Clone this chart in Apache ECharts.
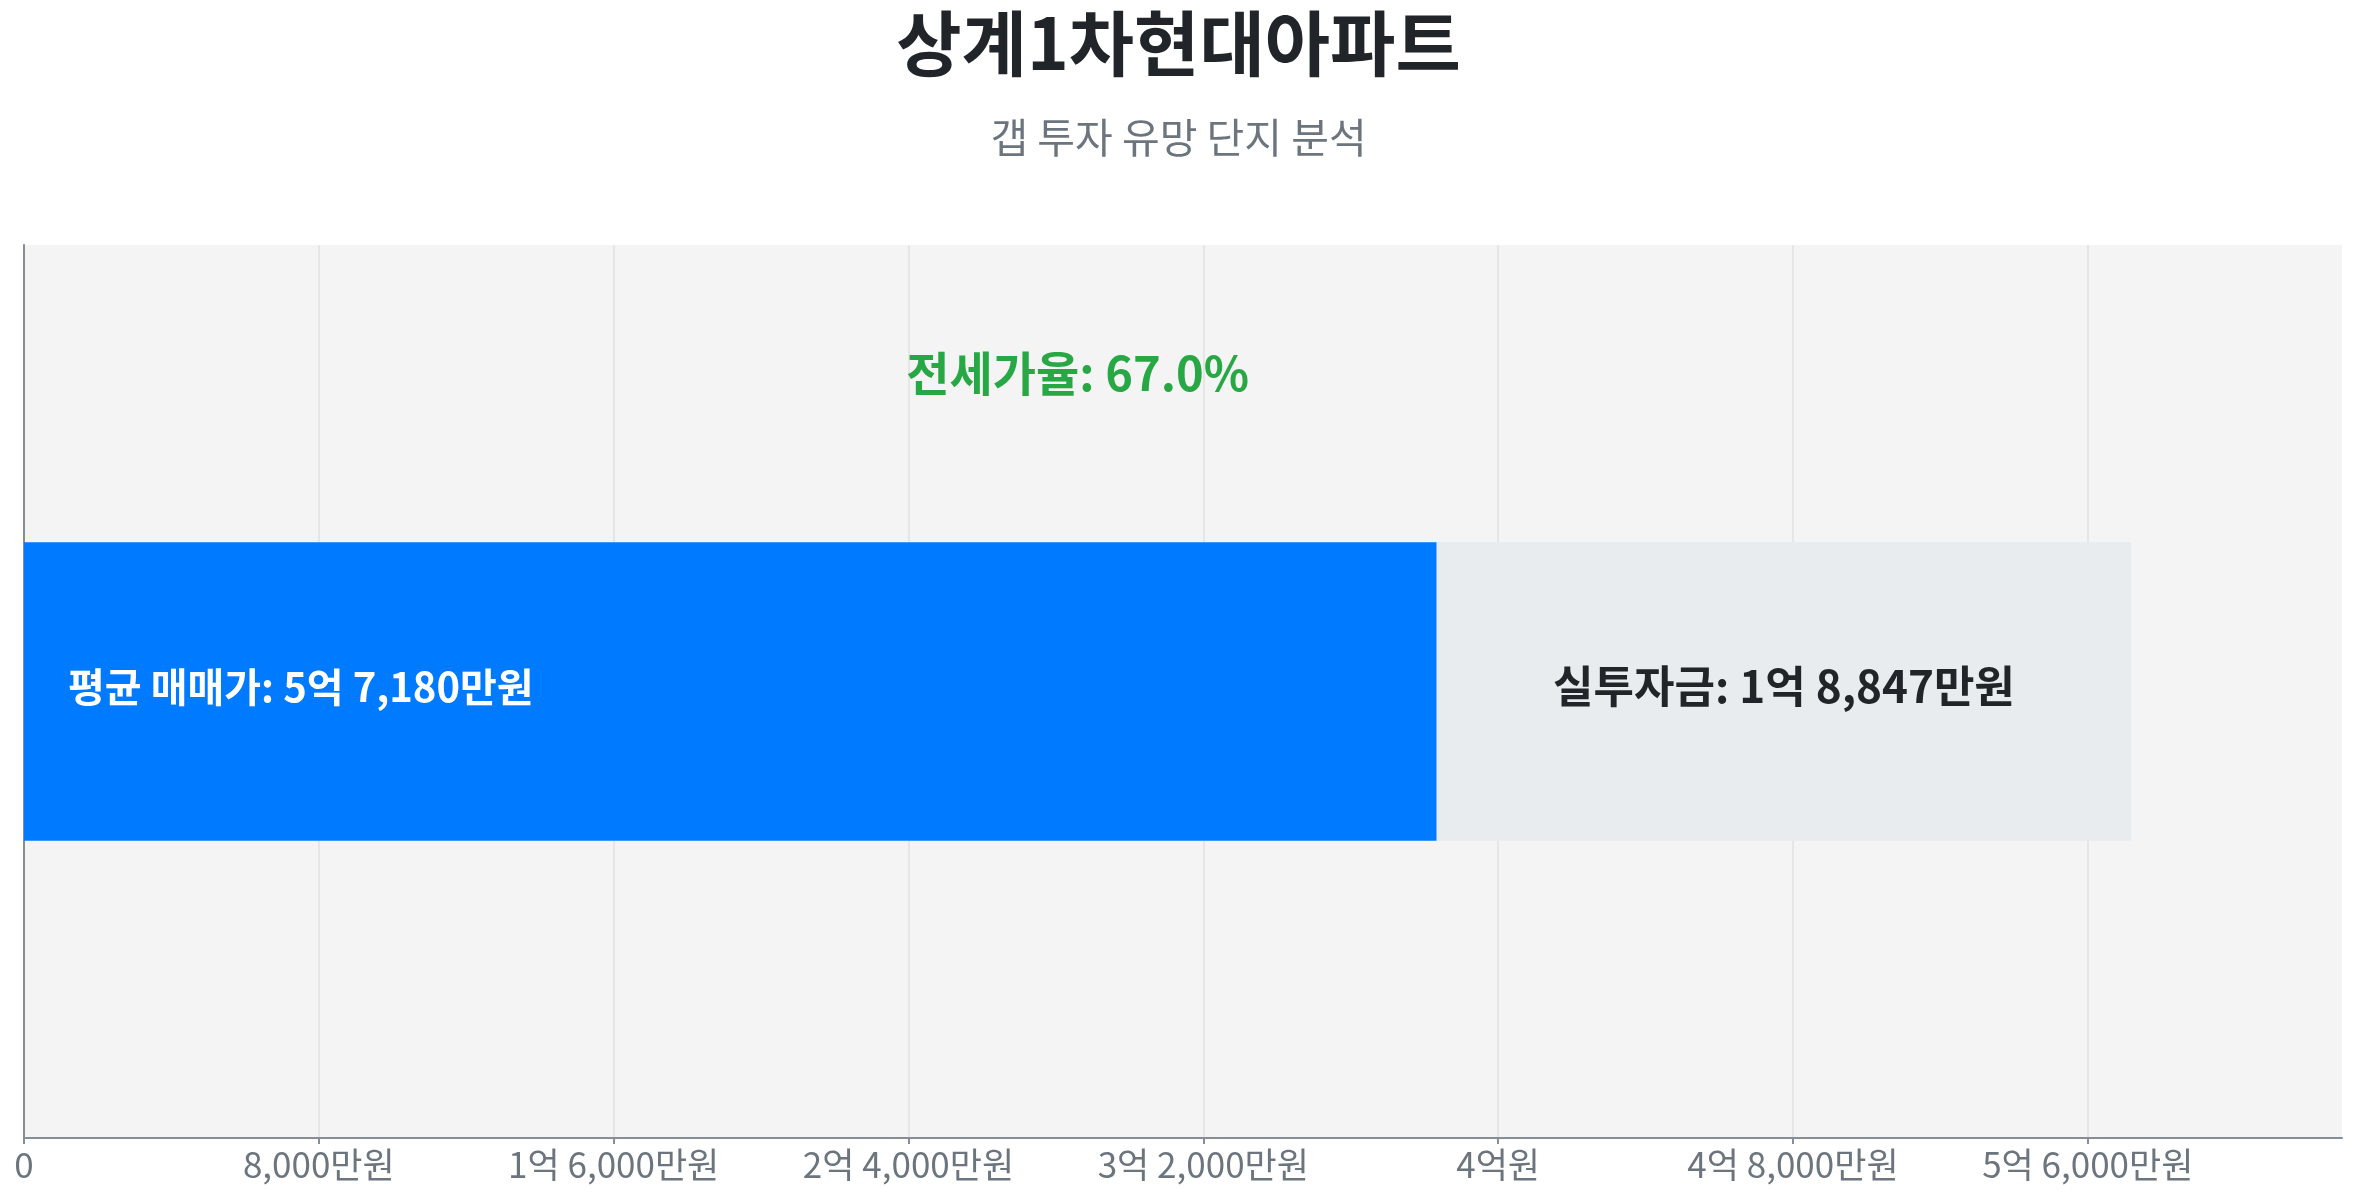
<!DOCTYPE html>
<html>
<head>
<meta charset="utf-8">
<script src="https://cdn.jsdelivr.net/npm/echarts@6/dist/echarts.min.js"></script>
<style>
html,body{margin:0;padding:0;background:#fff;}
#chart{width:2357px;height:1200px;}
</style>
</head>
<body>
<div id="chart"></div>
<script>
const categories = ['상계1차현대아파트'];
const jeonseValues = [38333];   // 전세가 (만원)
const gapValues = [18847];      // 실투자금 (만원)
const salePrices = [57180];     // 평균 매매가 (만원)
const jeonseRatios = [67.0];    // 전세가율 (%)
const titleText = '상계1차현대아파트';
const subtitleText = '갭 투자 유망 단지 분석';

const FONT = '"Noto Sans CJK KR", "Noto Sans", sans-serif';

function fmtMan(v) {
  if (v === 0) return '0';
  const eok = Math.floor(v / 10000);
  const man = Math.round(v % 10000);
  if (eok > 0 && man > 0) return eok + '억 ' + man.toLocaleString('en-US') + '만원';
  if (eok > 0) return eok + '억원';
  return man.toLocaleString('en-US') + '만원';
}

const chart = echarts.init(document.getElementById('chart'));
const option = {
  animation: false,
  title: [
    {
      text: titleText,
      left: 'center',
      top: 3,
      textStyle: { fontFamily: FONT, fontSize: 71, fontWeight: 'bold', color: '#212529' }
    },
    {
      text: subtitleText,
      left: 'center',
      top: 112,
      textStyle: { fontFamily: FONT, fontSize: 41, fontWeight: 'normal', color: '#6c757d' }
    }
  ],
  grid: {
    left: 24, right: 15, top: 245, bottom: 62,
    show: true, backgroundColor: '#f4f4f4', borderWidth: 0
  },
  xAxis: {
    type: 'value',
    min: 0,
    max: salePrices[0] * 1.1,
    interval: 8000,
    axisLine: { show: true, lineStyle: { color: '#868e96', width: 2 } },
    axisTick: { show: true, length: 6, lineStyle: { color: '#868e96', width: 2 } },
    axisLabel: {
      formatter: fmtMan, fontFamily: FONT, fontSize: 35, color: '#6c757d', margin: 9,
      showMaxLabel: false
    },
    splitLine: { show: true, showMaxLine: false, lineStyle: { color: '#e6e6e6', width: 2 } }
  },
  yAxis: {
    type: 'category',
    data: categories,
    axisLine: { show: true, lineStyle: { color: '#868e96', width: 2 } },
    axisTick: { show: false },
    axisLabel: { show: false }
  },
  series: [
    {
      name: '전세가',
      type: 'bar',
      stack: 'total',
      barWidth: '33.4%',
      data: jeonseValues,
      itemStyle: { color: '#007bff' },
      label: {
        show: true,
        position: 'insideLeft',
        distance: 44,
        offset: [0, -5],
        formatter: (p) => '평균 매매가: ' + fmtMan(salePrices[p.dataIndex]),
        fontFamily: FONT, fontSize: 40, fontWeight: 'bold', color: '#ffffff'
      }
    },
    {
      name: '실투자금',
      type: 'bar',
      stack: 'total',
      barWidth: '33.4%',
      data: gapValues,
      itemStyle: { color: '#e9ecef' },
      label: {
        show: true,
        position: 'inside',
        offset: [0, -5],
        formatter: (p) => '실투자금: ' + fmtMan(gapValues[p.dataIndex]),
        fontFamily: FONT, fontSize: 44, fontWeight: 'bold', color: '#212529'
      },
      markPoint: {
        symbol: 'circle',
        symbolSize: 0,
        silent: true,
        label: {
          show: true,
          position: 'inside',
          offset: [0, -318],
          formatter: () => '전세가율: ' + jeonseRatios[0].toFixed(1) + '%',
          fontFamily: FONT, fontSize: 47, fontWeight: 'bold', color: '#28a745'
        },
        data: [{ coord: [salePrices[0] / 2, categories[0]] }]
      }
    }
  ]
};
chart.setOption(option);
</script>
</body>
</html>
